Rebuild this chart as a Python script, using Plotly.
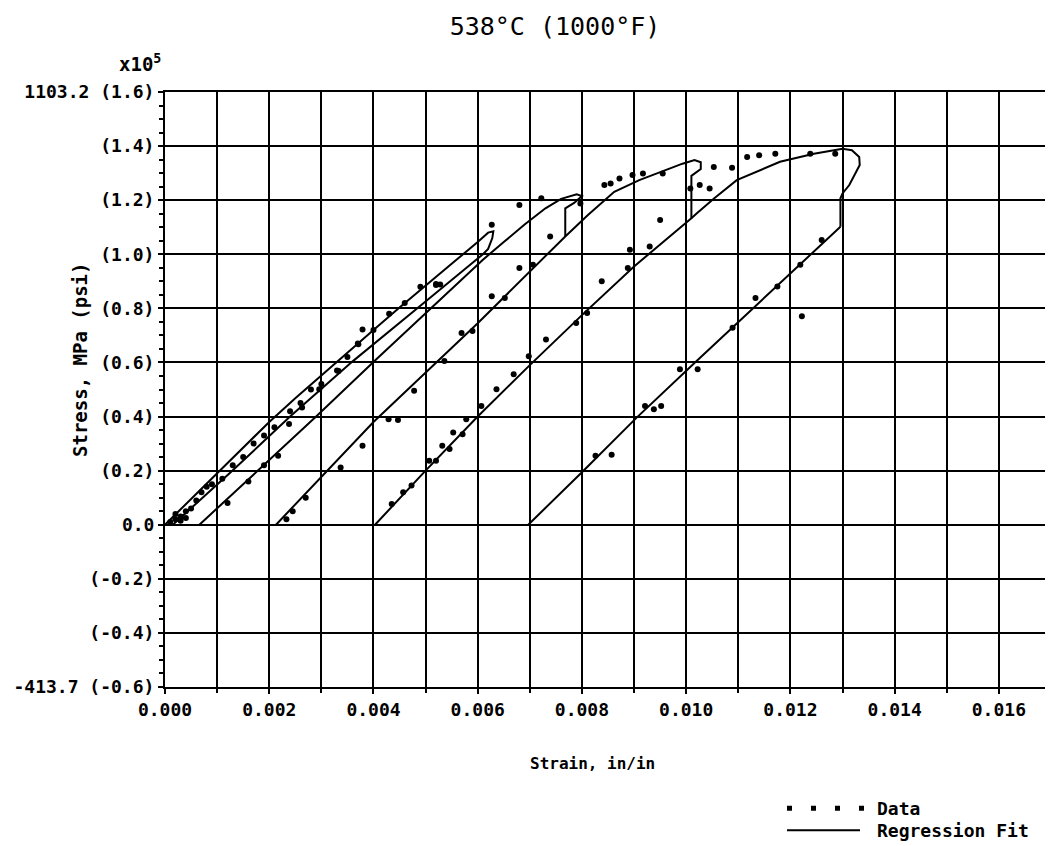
import plotly.graph_objects as go

# ---------------- data (strain in/in, stress in 1e5 psi) ----------------
load1_strain = [0.0, 0.0005, 0.001, 0.0015, 0.002, 0.0025, 0.003, 0.0035, 0.004, 0.0045,
                0.005, 0.0055, 0.006, 0.0062, 0.0063, 0.00628, 0.0062, 0.0061]
load1_stress = [0.0, 0.095, 0.19, 0.285, 0.38, 0.468, 0.553, 0.637, 0.72, 0.803,
                0.885, 0.965, 1.045, 1.08, 1.085, 1.06, 1.02, 1.0]

unload1_strain = [0.00015, 0.00126, 0.0024, 0.0036, 0.0049, 0.0061]
unload1_stress = [0.0, 0.194, 0.40, 0.604, 0.81, 1.0]

cycle2_strain = [0.00066, 0.00174, 0.0029, 0.00405, 0.0051, 0.0061, 0.0065, 0.0069, 0.0073,
                 0.0076, 0.0079, 0.0080, 0.00785, 0.00768, 0.00768]
cycle2_stress = [0.0, 0.194, 0.40, 0.611, 0.80, 0.98, 1.045, 1.11, 1.17,
                 1.205, 1.222, 1.215, 1.19, 1.17, 1.066]

cycle3_strain = [0.00213, 0.0040, 0.0060, 0.00768, 0.00812, 0.00862, 0.0091, 0.00993, 0.01016,
                 0.01028, 0.01028, 0.0101, 0.0101]
cycle3_stress = [0.0, 0.38, 0.745, 1.066, 1.146, 1.231, 1.274, 1.335, 1.348,
                 1.34, 1.315, 1.29, 1.133]

cycle4_strain = [0.00403, 0.005, 0.006, 0.007, 0.008, 0.009, 0.0101, 0.0102, 0.01054, 0.01097,
                 0.0118, 0.01245, 0.0130, 0.01318, 0.01332, 0.01333, 0.01313, 0.0130, 0.01296, 0.01296]
cycle4_stress = [0.0, 0.2, 0.4, 0.59, 0.775, 0.955, 1.133, 1.151, 1.207, 1.274,
                 1.342, 1.372, 1.39, 1.385, 1.36, 1.33, 1.256, 1.225, 1.207, 1.102]

unload4_strain = [0.00697, 0.008, 0.00905, 0.0102, 0.01296]
unload4_stress = [0.0, 0.194, 0.396, 0.605, 1.102]

data_strain = [
    0.0001, 0.0002, 0.0003, 0.0004, 0.0002, 0.0005, 0.0006, 0.0003, 0.0004, 0.0007, 0.0008,
    0.0009, 0.0011, 0.0013, 0.0015, 0.0017, 0.0019, 0.0021, 0.0024, 0.0026, 0.0028, 0.0030,
    0.0033, 0.0035, 0.0037, 0.0040, 0.0043, 0.0046, 0.0049, 0.0052,
    0.0012, 0.0016, 0.0019, 0.00217, 0.00238, 0.00263, 0.00296, 0.00333, 0.00371, 0.00379,
    0.00233, 0.00245, 0.0027, 0.00337, 0.00379, 0.00429, 0.00447, 0.00478, 0.00536, 0.00569,
    0.0059, 0.00627, 0.00652, 0.0068, 0.00706, 0.00739, 0.00528, 0.0052,
    0.00435, 0.00457, 0.00473, 0.00507, 0.0052, 0.00532, 0.00546, 0.00553, 0.00571, 0.00578,
    0.00607, 0.00636, 0.00669, 0.00698, 0.00731, 0.00789, 0.0081, 0.00838, 0.00888, 0.00892,
    0.0093, 0.0095, 0.01008,
    0.00826, 0.00857, 0.00921, 0.00938, 0.00952, 0.00988, 0.01022, 0.01089, 0.01133, 0.01175,
    0.01219, 0.01222, 0.0126,
    0.00627, 0.0068, 0.00722, 0.00797, 0.00843, 0.00855, 0.00872, 0.00897, 0.00917, 0.00955,
    0.01026, 0.01045, 0.01053, 0.01088, 0.01117, 0.0114, 0.01171, 0.01238, 0.01286,
]
data_stress = [
    0.01, 0.02, 0.03, 0.05, 0.04, 0.06, 0.09, 0.015, 0.025, 0.12, 0.14,
    0.15, 0.17, 0.22, 0.25, 0.30, 0.33, 0.36, 0.42, 0.45, 0.50, 0.52,
    0.57, 0.62, 0.67, 0.72, 0.78, 0.82, 0.88, 0.89,
    0.08, 0.16, 0.22, 0.255, 0.372, 0.433, 0.501, 0.568, 0.667, 0.722,
    0.02, 0.05, 0.10, 0.212, 0.292, 0.39, 0.387, 0.495, 0.605, 0.709,
    0.716, 0.845, 0.838, 0.949, 0.961, 1.066, 0.888, 0.886,
    0.077, 0.12, 0.145, 0.237, 0.237, 0.292, 0.28, 0.341, 0.335, 0.39,
    0.439, 0.501, 0.556, 0.623, 0.685, 0.746, 0.783, 0.90, 0.949, 1.017,
    1.029, 1.127, 1.243,
    0.255, 0.259, 0.439, 0.427, 0.439, 0.575, 0.575, 0.728, 0.838, 0.881,
    0.961, 0.771, 1.053,
    1.109, 1.182, 1.207, 1.188, 1.256, 1.262, 1.28, 1.293, 1.299, 1.299,
    1.256, 1.243, 1.323, 1.32, 1.36, 1.366, 1.372, 1.372, 1.372,
]

x_tick_vals = [0.000, 0.002, 0.004, 0.006, 0.008, 0.010, 0.012, 0.014, 0.016]
x_tick_text = ["0.000", "0.002", "0.004", "0.006", "0.008", "0.010", "0.012", "0.014", "0.016"]
y_tick_vals = [-0.6, -0.4, -0.2, 0.0, 0.2, 0.4, 0.6, 0.8, 1.0, 1.2, 1.4, 1.6]
y_tick_text = ["-413.7 (-0.6)", "(-0.4)", "(-0.2)", "0.0", "(0.2)", "(0.4)", "(0.6)",
               "(0.8)", "(1.0)", "(1.2)", "(1.4)", "1103.2 (1.6)"]

# ---------------- figure ----------------
MONO = "DejaVu Sans Mono"
# the page body adds an 8 px offset; the layout below compensates for it
L, T, R, B = 157, 84, 10, 167
PW, PH = 1053 - L - R, 846 - T - B


def px_x(x):
    return (x - L) / PW


def px_y(y):
    return (846 - B - y) / PH


fig = go.Figure()

fits = [(load1_strain, load1_stress), (unload1_strain, unload1_stress),
        (cycle2_strain, cycle2_stress), (cycle3_strain, cycle3_stress),
        (cycle4_strain, cycle4_stress), (unload4_strain, unload4_stress)]
for xs, ys in fits:
    fig.add_trace(go.Scatter(x=xs, y=ys, mode="lines",
                             line=dict(color="black", width=2),
                             name="Regression Fit", legendgroup="fit",
                             showlegend=False, hoverinfo="skip"))

fig.add_trace(go.Scatter(x=data_strain, y=data_stress, mode="markers",
                         marker=dict(color="black", size=6),
                         name="Data", showlegend=False))

# legend keys (no data of their own), one per legend box
fig.add_trace(go.Scatter(x=[None], y=[None], mode="lines",
                         line=dict(color="black", width=5, dash="5px,19px"),
                         name="Data", showlegend=True, legend="legend"))
fig.add_trace(go.Scatter(x=[None], y=[None], mode="lines",
                         line=dict(color="black", width=2, dash="73px,200px"),
                         name="Regression Fit", showlegend=True, legend="legend2"))

legend_font = dict(family=MONO, size=18, color="black", weight="bold")
fig.update_layout(
    width=1053, height=846,
    margin=dict(l=L, r=R, t=T, b=B, autoexpand=False),
    paper_bgcolor="white", plot_bgcolor="white",
    font=dict(family=MONO, color="black"),
    title=dict(text="538°C (1000°F)", x=547 / 1053, xanchor="center",
               y=1 - 18 / 846, yanchor="middle", yref="container",
               font=dict(family=MONO, size=25, color="black")),
    showlegend=True,
    legend=dict(xref="container", yref="container", x=774 / 1053, xanchor="left",
                y=1 - 782 / 846, yanchor="top", itemwidth=85,
                bgcolor="rgba(0,0,0,0)", font=legend_font),
    legend2=dict(xref="container", yref="container", x=774 / 1053, xanchor="left",
                 y=1 - 804 / 846, yanchor="top", itemwidth=85,
                 bgcolor="rgba(0,0,0,0)", font=legend_font),
    xaxis=dict(range=[0, 0.017], tickvals=x_tick_vals, ticktext=x_tick_text,
               showgrid=True, gridcolor="black", gridwidth=2,
               minor=dict(dtick=0.001, tick0=0, showgrid=True, gridcolor="black",
                          gridwidth=2, ticks="outside", ticklen=4, tickcolor="black"),
               ticks="outside", ticklen=5, tickwidth=2, tickcolor="black",
               showline=True, mirror=True, linecolor="black", linewidth=2,
               zeroline=False,
               tickfont=dict(family=MONO, size=18, color="black", weight="bold")),
    yaxis=dict(range=[-0.6, 1.6], tickvals=y_tick_vals, ticktext=y_tick_text,
               showgrid=True, gridcolor="black", gridwidth=2,
               minor=dict(dtick=0.05, tick0=0, showgrid=False, ticks="outside",
                          ticklen=4, tickcolor="black", tickwidth=2),
               ticks="outside", ticklen=5, tickwidth=2, tickcolor="black",
               showline=True, mirror=True, linecolor="black", linewidth=2,
               zeroline=False,
               tickfont=dict(family=MONO, size=18, color="black", weight="bold")),
    annotations=[
        dict(text="x10<sup>5</sup>", xref="paper", yref="paper",
             x=px_x(155), y=px_y(55), xanchor="right", yanchor="middle",
             showarrow=False, font=dict(family=MONO, size=19, color="black", weight="bold")),
        dict(text="Stress, MPa (psi)", xref="paper", yref="paper",
             x=px_x(72), y=px_y(352), textangle=-90,
             xanchor="center", yanchor="middle", showarrow=False,
             font=dict(family=MONO, size=19, color="black", weight="bold")),
        dict(text="Strain, in/in", xref="paper", yref="paper",
             x=px_x(584), y=px_y(755),
             xanchor="center", yanchor="middle", showarrow=False,
             font=dict(family=MONO, size=16, color="black", weight="bold")),
    ],
)

fig.write_html("out.html")
